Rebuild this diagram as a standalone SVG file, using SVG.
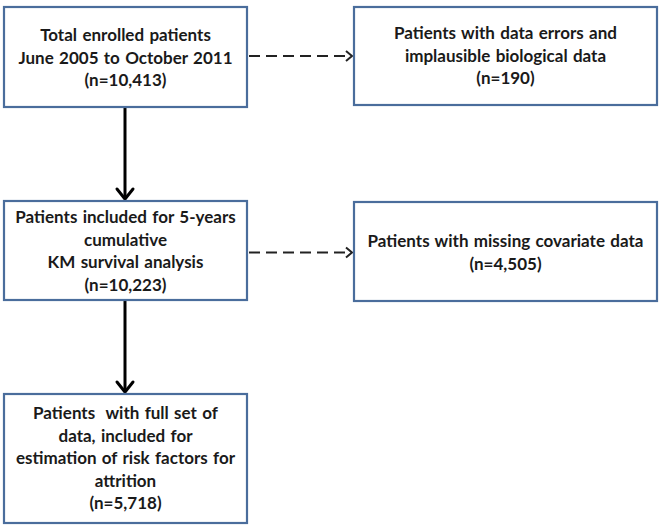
<svg xmlns="http://www.w3.org/2000/svg" width="663" height="529" viewBox="0 0 663 529">
<defs>
<style>
.box{fill:#fff;stroke:#4a6d9c;stroke-width:2.2}
.t{font-family:Lato,"Liberation Sans",sans-serif;font-weight:bold;font-size:17px;fill:#1a1a1a;text-anchor:middle;word-spacing:1.2px}
.solid{stroke:#000;stroke-width:3;fill:none}
.dash{stroke:#222;stroke-width:2;fill:none;stroke-dasharray:11 6}
.head{stroke:#000;stroke-width:3;fill:none;stroke-linecap:round;stroke-linejoin:miter}
.dhead{stroke:#222;stroke-width:2;fill:none}
</style>
</defs>
<rect width="663" height="529" fill="#fff"/>
<g id="connectors">
<line class="solid" x1="125" y1="107" x2="125" y2="199"/>
<polyline class="head" points="117,189 125,199 133,189"/>
<line class="solid" x1="125" y1="300" x2="125" y2="392"/>
<polyline class="head" points="117,382 125,392 133,382"/>
<line class="dash" x1="249" y1="56" x2="350" y2="56"/>
<polyline class="dhead" points="346,51 352,56 346,61"/>
<line class="dash" x1="249" y1="252.5" x2="350" y2="252.5"/>
<polyline class="dhead" points="346,247.5 352,252.5 346,257.5"/>
</g>
<g id="node1">
<rect class="box" x="4" y="7" width="243" height="100"/>
<text class="t" x="125.5" y="41">Total enrolled patients</text>
<text class="t" x="125.5" y="63.5">June 2005 to October 2011</text>
<text class="t" x="125.5" y="86">(n=10,413)</text>
</g>
<g id="node2">
<rect class="box" x="354" y="7" width="303" height="98"/>
<text class="t" x="505.5" y="39">Patients with data errors and</text>
<text class="t" x="505.5" y="61.5">implausible biological data</text>
<text class="t" x="505.5" y="84">(n=190)</text>
</g>
<g id="node3">
<rect class="box" x="4" y="201" width="243" height="99"/>
<text class="t" x="125.5" y="223">Patients included for 5-years</text>
<text class="t" x="125.5" y="245.5">cumulative</text>
<text class="t" x="125.5" y="268">KM survival analysis</text>
<text class="t" x="125.5" y="290.5">(n=10,223)</text>
</g>
<g id="node4">
<rect class="box" x="354" y="202" width="303" height="99"/>
<text class="t" x="505.5" y="247">Patients with missing covariate data</text>
<text class="t" x="505.5" y="269.5">(n=4,505)</text>
</g>
<g id="node5">
<rect class="box" x="4" y="394" width="243" height="129"/>
<text class="t" x="125.5" y="419" xml:space="preserve">Patients  with full set of</text>
<text class="t" x="125.5" y="441.5">data, included for</text>
<text class="t" x="125.5" y="464">estimation of risk factors for</text>
<text class="t" x="125.5" y="486.5">attrition</text>
<text class="t" x="125.5" y="509">(n=5,718)</text>
</g>
</svg>
